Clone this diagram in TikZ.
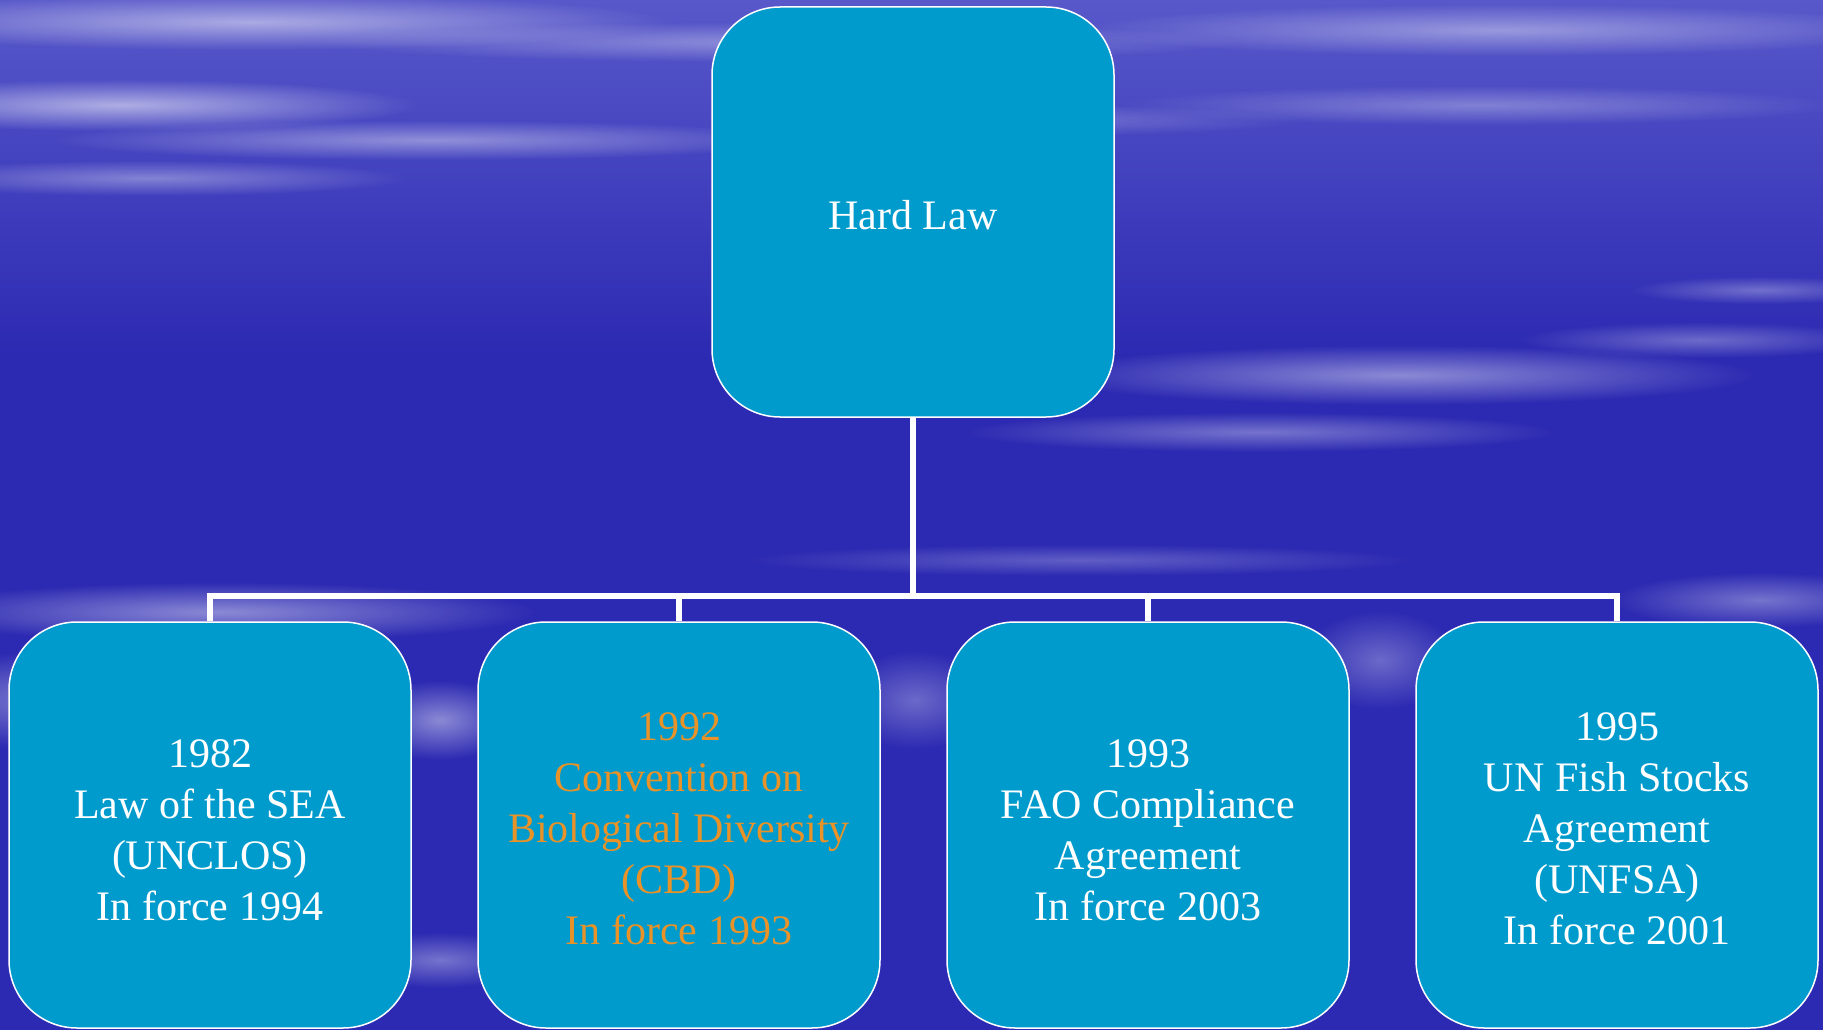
\documentclass[tikz,border=0pt]{standalone}
\usepackage{fontspec}
\setmainfont{Liberation Serif}
\usetikzlibrary{fadings}
\definecolor{bgdark}{RGB}{44,41,178}
\definecolor{bgtop}{RGB}{88,88,202}
\definecolor{boxfill}{RGB}{0,155,205}
\definecolor{cbdorange}{RGB}{232,146,40}
\tikzfading[name=softfade, inner color=transparent!0, outer color=transparent!100]
\tikzset{
  cardbox/.style={draw=white, line width=1.5pt, fill=boxfill, rounded corners=68pt,
    minimum width=402pt, inner sep=0pt},
  bottombox/.style={cardbox, minimum height=406pt},
  cardtext/.style={align=center, text=white, inner sep=0pt,
    font=\fontsize{42}{51}\selectfont},
  conn/.style={draw=white, line width=6pt},
  streak/.style={fill=white, path fading=softfade}
}
\begin{document}
\begin{tikzpicture}[x=1pt,y=-1pt]
\useasboundingbox (0,0) rectangle (1823,1030);
% background
\fill[bgdark] (0,0) rectangle (1823,1030);
\shade[top color=bgtop, bottom color=bgdark] (0,0) rectangle (1823,360);
\foreach \cx/\cy/\rx/\ry/\op in {
  250/22/420/28/0.5, 780/42/460/20/0.35, 1500/30/420/26/0.4,
  120/105/300/26/0.55, 430/140/380/20/0.4, 150/178/260/18/0.35,
  1480/105/360/20/0.3, 1000/120/300/16/0.25,
  1400/375/360/30/0.45, 1260/432/300/20/0.35, 1700/340/180/18/0.3, 1760/290/130/14/0.3,
  220/612/320/30/0.45, 60/700/180/50/0.4, 440/720/80/40/0.45, 440/960/100/28/0.35,
  1760/600/150/28/0.35, 915/700/80/50/0.3, 1380/660/80/50/0.3, 1080/560/340/16/0.25}
  \fill[streak, opacity=\op] (\cx,\cy) ellipse [x radius=\rx, y radius=\ry];
% nodes
\node[cardbox, minimum height=410pt] (top) at (913,212) {};
\node[cardtext] (topt) at ([yshift=-3pt]top.center) {Hard Law};
\node[bottombox] (b1) at (210,825) {};
\node[bottombox] (b2) at (679,825) {};
\node[bottombox] (b3) at (1148,825) {};
\node[bottombox] (b4) at (1617,825) {};
\node[cardtext] (b1t) at ([yshift=-5pt]b1.center) {1982\\Law of the SEA\\(UNCLOS)\\In force 1994};
\node[cardtext, text=cbdorange] (b2t) at ([yshift=-4pt]b2.center) {1992\\Convention on\\Biological Diversity\\(CBD)\\In force 1993};
\node[cardtext] (b3t) at ([yshift=-5pt]b3.center) {1993\\FAO Compliance\\Agreement\\In force 2003};
\node[cardtext] (b4t) at ([yshift=-4pt]b4.center) {1995\\UN Fish Stocks\\Agreement\\(UNFSA)\\In force 2001};
% connectors
\coordinate (j) at (913,596);
\draw[conn] (top.south) -- (j);
\draw[conn] (b1.north) |- (j);
\draw[conn] (b2.north) |- (j);
\draw[conn] (b3.north) |- (j);
\draw[conn] (b4.north) |- (j);
\end{tikzpicture}
\end{document}
